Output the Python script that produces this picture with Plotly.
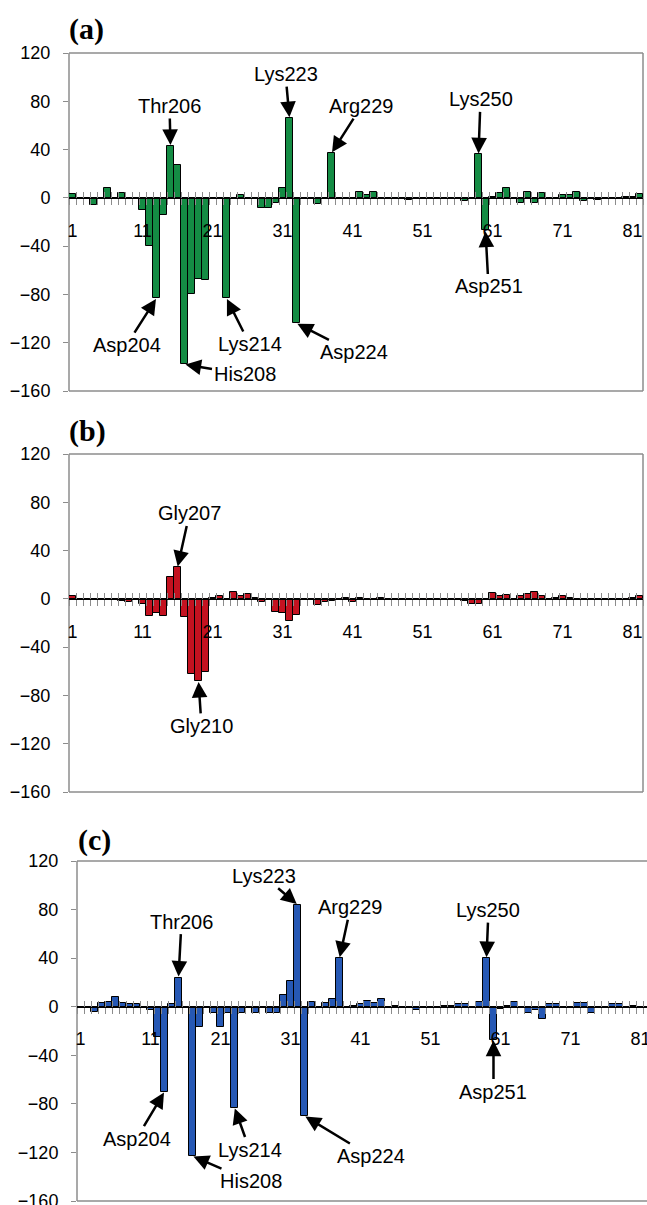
import plotly.graph_objects as go

W, H = 647, 1205

categories = list(range(1, 83))
tick_labels = [str(v) for v in range(1, 82, 10)]

values_a = [3, 0, 0, -6, 0, 8, 0, 4, -1, 0,
            -10, -40, -83, -14, 43, 27, -138, -80, -67, -68,
            0, 0, -83, 0, 2, -1, -1, -8, -8, -4,
            8, 66, -104, 0, 0, -5, 0, 37, 0, 0,
            0, 5, 2, 5, 0, 0, -1, -1, -2, 0,
            0, 0, 0, 0, 0, -1, -3, 0, 36, -27,
            1, 4, 8, 0, -4, 5, -4, 4, 0, 0,
            2, 2, 5, -3, 0, -2, 0, 0, 0, 1,
            1, 3]
values_b = [2, 0, 0, 0, 0, 0, 0, -2, -3, -1,
            -4, -14, -12, -14, 18, 26, -15, -62, -68, -61,
            1, 2, 0, 6, 2, 4, 1, -3, 0, -11,
            -12, -18, -13, 0, 0, -5, -3, -2, 0, 1,
            -3, 1, 0, -1, 1, 0, 0, 0, 0, 0,
            -1, 0, 0, 0, 0, -1, -2, -4, -4, 0,
            5, 2, 3, 0, 2, 4, 6, 2, -1, 1,
            2, 1, 0, 0, 0, 0, 0, 0, 0, 0,
            1, 2]
values_c = [-1, 0, -4, 3, 4, 8, 3, 2, 2, 0,
            -3, -25, -70, 2, 24, 0, -123, -17, 0, -5,
            -17, -5, -83, -5, 0, -5, 0, -5, -5, 10,
            21, 84, -90, 4, 0, 3, 6, 40, 0, 1,
            2, 5, 3, 6, 0, 1, 0, 0, -3, 0,
            0, 0, 1, 1, 2, 2, 0, 4, 40, -27,
            -2, 1, 4, 0, -5, -3, -10, 2, 2, 0,
            0, 3, 3, -5, -1, 0, 2, 2, 0, 1,
            0, 0]

labels_a = [("Thr206", 15, -1, -40), ("Lys223", 32, -4, -44), ("Arg229", 38, 30, -47),
            ("Lys250", 59, 2, -55), ("Asp251", 60, 3, 56), ("Asp204", 13, -30, 47),
            ("His208", 17, 60, 10), ("Lys214", 23, 23, 46), ("Asp224", 33, 57, 29)]
labels_b = [("Gly207", 16, 12, -54), ("Gly210", 19, 3, 45)]
labels_c = [("Thr206", 15, 3, -56), ("Lys223", 32, -34, -29), ("Arg229", 38, 11, -51),
            ("Lys250", 59, 2, -48), ("Asp251", 60, 0, 52), ("Asp204", 13, -28, 47),
            ("His208", 17, 58, 25), ("Lys214", 23, 15, 42), ("Asp224", 33, 66, 40)]

panels = [
    dict(vals=values_a, labels=labels_a, color="rgb(20,140,68)", title="(a)",
         px=(69, 643), py=(53, 391), xr=[0.5, 82.5], tx=67, ty=29, right=True),
    dict(vals=values_b, labels=labels_b, color="rgb(196,18,32)", title="(b)",
         px=(69, 643), py=(454, 792), xr=[0.5, 82.5], tx=67, ty=431, right=True),
    dict(vals=values_c, labels=labels_c, color="rgb(38,88,180)", title="(c)",
         px=(77, 647), py=(861, 1201), xr=[0.5, 81.93], tx=76, ty=840, right=False),
]

YMIN, YMAX = -160, 120
grey = "rgb(140,140,140)"
font_sans = "Liberation Sans, Arial, sans-serif"

fig = go.Figure()
layout = dict(width=W, height=H, margin=dict(l=0, r=0, t=0, b=0, pad=0),
              autosize=False,
              paper_bgcolor="white", plot_bgcolor="white", showlegend=False,
              bargap=0, annotations=[], shapes=[])

bounds = [c - 0.5 for c in categories] + [categories[-1] + 0.5]

for i, p in enumerate(panels):
    n = i + 1
    xs = "" if n == 1 else str(n)
    ov = str(n + 3)
    x0, x1 = p["px"][0] / W, p["px"][1] / W
    y0, y1 = 1 - p["py"][1] / H, 1 - p["py"][0] / H
    zero_pos = y0 + (0 - YMIN) / (YMAX - YMIN) * (y1 - y0)

    fig.add_trace(go.Bar(x=categories, y=p["vals"], xaxis="x" + xs, yaxis="y" + xs,
                         marker=dict(color=p["color"], line=dict(color="black", width=1)),
                         width=1))
    fig.add_trace(go.Scatter(x=[None], y=[None], xaxis="x" + ov, yaxis="y" + xs,
                             mode="markers", hoverinfo="skip"))

    layout["xaxis" + xs] = dict(
        domain=[x0, x1], range=p["xr"], anchor="free", position=zero_pos,
        automargin=False, ticklabeloverflow="allow",
        showline=True, linecolor="black", linewidth=1.2, showgrid=False, zeroline=False,
        tickmode="array", tickvals=[int(t) for t in tick_labels], ticktext=tick_labels,
        ticks="", tickfont=dict(family=font_sans, size=18, color="black"),
        ticklabelstandoff=16,
        minor=dict(tickmode="array", tickvals=bounds, ticks="outside", ticklen=6,
                   tickcolor=grey, tickwidth=1, showgrid=False))
    layout["xaxis" + ov] = dict(
        domain=[x0, x1], range=p["xr"], anchor="free", position=zero_pos,
        automargin=False,
        overlaying="x" + xs, showline=False, showgrid=False, zeroline=False,
        showticklabels=False, tickmode="array", tickvals=bounds, ticks="inside",
        ticklen=6, tickcolor=grey, tickwidth=1)
    layout["yaxis" + xs] = dict(
        domain=[y0, y1], range=[YMIN, YMAX], anchor="x" + xs, showline=False,
        automargin=False, ticklabeloverflow="allow",
        showgrid=False, zeroline=False, tickmode="array",
        tickvals=list(range(YMIN, YMAX + 1, 40)), ticks="outside", ticklen=5,
        tickcolor=grey, ticklabelstandoff=9,
        tickfont=dict(family=font_sans, size=18, color="black"))

    xr_d, yr_d = "x" + xs + " domain", "y" + xs + " domain"
    line = dict(color=grey, width=1.5)
    segs = [(0, 0, 1, 0), (0, 1, 1, 1), (0, 0, 0, 1)]
    if p["right"]:
        segs.append((1, 0, 1, 1))
    for a, b, c, d in segs:
        layout["shapes"].append(dict(type="line", xref=xr_d, yref=yr_d,
                                     x0=a, y0=b, x1=c, y1=d, line=line, layer="below"))

    layout["annotations"].append(dict(
        text="<b>" + p["title"] + "</b>", xref="paper", yref="paper",
        x=p["tx"] / W, y=1 - p["ty"] / H, xanchor="left", yanchor="middle",
        showarrow=False, font=dict(family="Liberation Serif, Times New Roman, serif",
                                   size=30, color="black")))

    for name, cat, ax, ay in p["labels"]:
        layout["annotations"].append(dict(
            text=name, x=cat, y=p["vals"][cat - 1], xref="x" + xs, yref="y" + xs,
            ax=ax, ay=ay, showarrow=True, arrowhead=2, arrowsize=1.25, arrowwidth=2.5,
            arrowcolor="black", standoff=1,
            font=dict(family=font_sans, size=20, color="black")))

fig.update_layout(**layout)
fig.write_html("out.html", config={"displayModeBar": False},
               post_script="document.body.style.margin='0';"
                           "document.body.style.overflow='hidden';")
